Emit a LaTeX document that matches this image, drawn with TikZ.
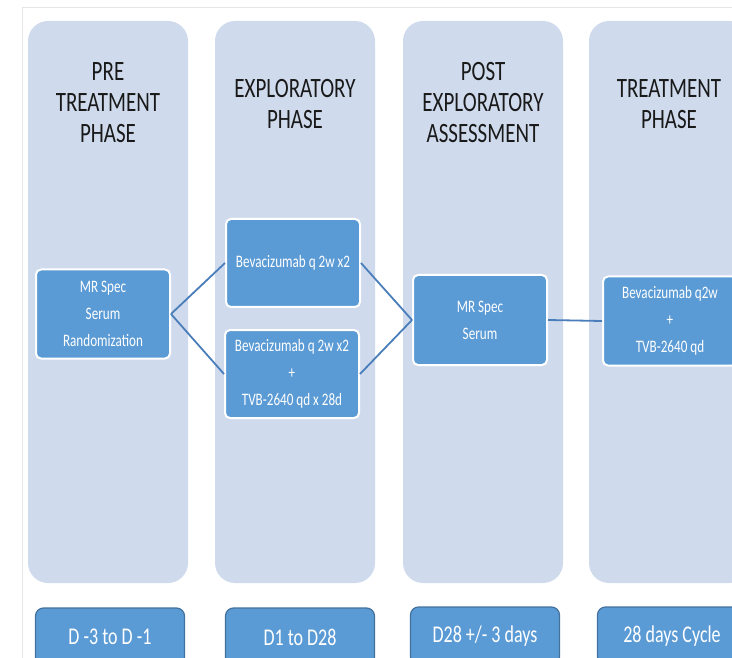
\documentclass[tikz,border=0pt]{standalone}
\usepackage{fontspec}
\setmainfont[FakeStretch=0.75]{Carlito}
\usepackage{tikz}
\usepackage{xcolor}
\usetikzlibrary{positioning}

\definecolor{phasefill}{RGB}{207,219,237}
\definecolor{boxfill}{RGB}{91,155,213}
\definecolor{boxline}{RGB}{65,113,156}
\definecolor{linkcol}{RGB}{74,126,187}
\definecolor{framecol}{RGB}{230,230,230}

\begin{document}
\begin{tikzpicture}[x=1pt, y=-1pt,
    phase/.style={rounded corners=20pt, fill=phasefill, minimum width=160pt, minimum height=562pt, inner sep=0pt},
    title/.style={align=center, text=black!90, font=\fontsize{28}{31}\selectfont},
    item/.style={rounded corners=5pt, draw=white, line width=2pt, fill=boxfill, text=white, align=center, minimum width=134pt, minimum height=89pt, font=\fontsize{17.5}{27}\selectfont},
    day/.style={rounded corners=8pt, draw=boxline, line width=1.2pt, fill=boxfill, text=white, minimum width=149pt, minimum height=58pt, font=\fontsize{24}{28}\selectfont},
    link/.style={draw=linkcol, line width=1.8pt}]
    \useasboundingbox (0,0) rectangle (732,658);
    \draw[framecol, line width=0.8pt] (22,658) -- (22,7) -- (732,7);

    % phase columns
    \node[phase] (colPre) at (108,302) {};
    \node[phase] (colExp) at (295,302) {};
    \node[phase] (colPost) at (483,302) {};
    \node[phase] (colTreat) at (669,302) {};

    \node[title] (tPre) at (108,103) {PRE\\TREATMENT\\PHASE};
    \node[title] (tExp) at (295,104) {EXPLORATORY\\PHASE};
    \node[title] (tPost) at (483,103) {POST\\EXPLORATORY\\ASSESSMENT};
    \node[title] (tTreat) at (669,104) {TREATMENT\\PHASE};

    % steps
    \node[item] (mrRand) at (103,314) {MR Spec\\Serum\\Randomization};
    \node[item, minimum height=88pt] (bevOnly) at (293,263) {Bevacizumab q 2w x2};
    \node[item, minimum height=88pt] (bevTvb) at (292,374) {Bevacizumab q 2w x2\\+\\TVB-2640 qd x 28d};
    \node[item, minimum height=90pt] (mrSerum) at (480,320) {MR Spec\\Serum};
    \node[item] (bevTreat) at (670,321) {Bevacizumab q2w\\+\\TVB-2640 qd};

    \draw[link] (mrRand.east) -- (bevOnly.west);
    \draw[link] (mrRand.east) -- (bevTvb.west);
    \draw[link] (bevOnly.east) -- (mrSerum.west);
    \draw[link] (bevTvb.east) -- (mrSerum.west);
    \draw[link] (mrSerum.east) -- (bevTreat.west);

    % days
    \node[day] (dPre) at (110,637) {D -3 to D -1};
    \node[day] (dExp) at (300,637) {D1 to D28};
    \node[day] (dPost) at (485,636) {D28 +/- 3 days};
    \node[day] (dTreat) at (672,636) {28 days Cycle};
\end{tikzpicture}
\end{document}
